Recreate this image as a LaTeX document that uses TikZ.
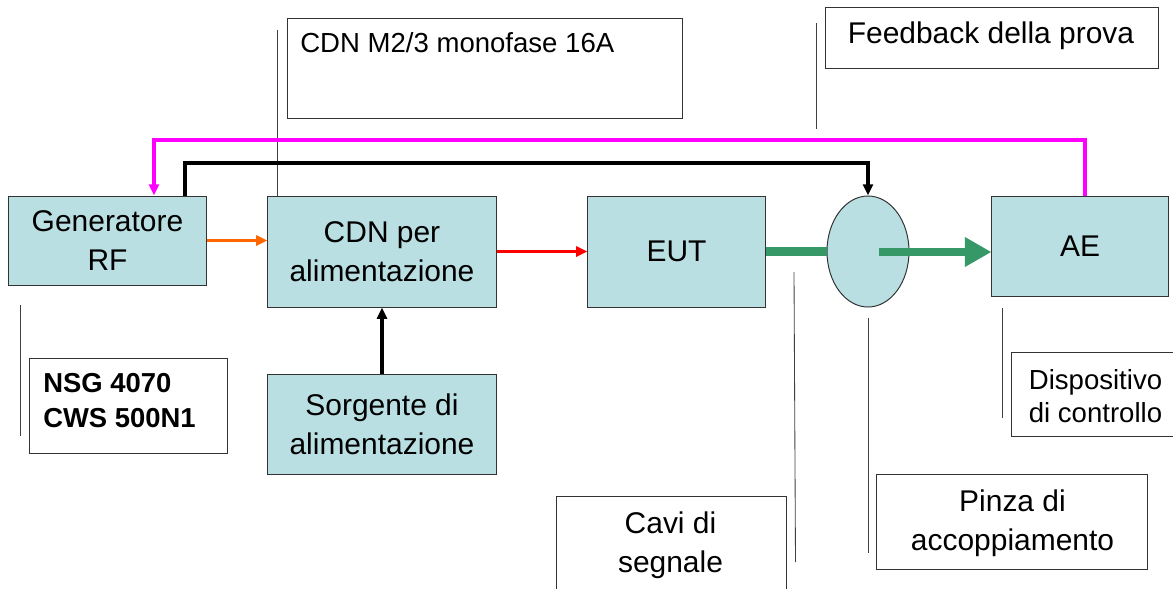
\documentclass[tikz,border=0pt]{standalone}
\usepackage{fontspec}
\setmainfont{Liberation Sans}
\usetikzlibrary{arrows.meta,shapes.geometric}
\definecolor{boxfill}{RGB}{185,223,226}
\definecolor{magline}{RGB}{255,0,255}
\definecolor{orline}{RGB}{255,102,0}
\definecolor{grline}{RGB}{54,152,102}
\tikzset{
  blk/.style={draw=black!80, line width=0.7pt, fill=boxfill, align=center, inner sep=0pt,
    font=\fontsize{21.3}{27.5}\selectfont},
  lblbox/.style={draw=black!80, line width=0.7pt, fill=white, inner sep=0pt},
  bigtxt/.style={align=center, inner sep=0pt, font=\fontsize{21.3}{28}\selectfont},
  smalltxt/.style={align=center, inner sep=0pt, font=\fontsize{19.6}{23.5}\selectfont},
  leader/.style={draw=black!75, line width=0.6pt},
  mag/.style={draw=magline, line width=2.2pt, -{Triangle[length=8pt,width=7pt]}},
  blkline/.style={draw=black, line width=2.2pt, -{Triangle[length=8pt,width=7pt]}},
  thinarrow/.style={line width=2.2pt, -{Triangle[length=8pt,width=7pt]}},
}
\begin{document}
\begin{tikzpicture}[x=0.025cm, y=-0.025cm]
\useasboundingbox (0,0) rectangle (1173,588);
% main blocks
\node[blk, minimum width=4.925cm, minimum height=2.225cm] (gen) at (107.5,240.5) {Generatore\\RF};
\node[blk, minimum width=5.7cm, minimum height=2.775cm] (cdn) at (382,251.5) {CDN per\\alimentazione};
\node[blk, minimum width=4.425cm, minimum height=2.775cm] (eut) at (676.5,251.5) {EUT};
\node[blk, ellipse, minimum width=2.05cm, minimum height=2.775cm] (ell) at (868,251.5) {};
\node[blk, minimum width=4.4cm, minimum height=2.5cm] (ae) at (1080,246) {AE};
\node[blk, minimum width=5.7cm, minimum height=2.5cm] (src) at (382,424) {Sorgente di\\alimentazione};
% label boxes
\node[lblbox, minimum width=9.85cm, minimum height=2.5cm] (cdnmbox) at (485,68) {};
\node[anchor=west, inner sep=0pt, font=\fontsize{19.6}{23.5}\selectfont] (cdnmtxt) at (300,43) {CDN M2/3 monofase 16A};
\node[lblbox, minimum width=8.3cm, minimum height=1.525cm] (fb) at (992,37.5) {};
\node[bigtxt] (fbtxt) at (991,36) {Feedback della prova};
\node[lblbox, minimum width=4.925cm, minimum height=2.375cm] (nsg) at (128.5,405.5) {};
\node[anchor=west, align=left, inner sep=0pt, font=\bfseries\fontsize{19.5}{25}\selectfont] (nsgtxt) at (43,400.5) {NSG 4070\\CWS 500N1};
\node[lblbox, minimum width=4.5cm, minimum height=2.1cm] (disp) at (1102,394) {};
\node[smalltxt] (disptxt) at (1095.5,396.5) {Dispositivo\\di controllo};
\node[lblbox, minimum width=6.75cm, minimum height=2.375cm] (pinza) at (1012,521.5) {};
\node[bigtxt] (pinzatxt) at (1012.5,523) {Pinza di\\accoppiamento};
\node[lblbox, minimum width=5.725cm, minimum height=2.375cm] (cavi) at (671.5,543.5) {};
\node[bigtxt] (cavitxt) at (670.5,545) {Cavi di\\segnale};
% leader lines
\coordinate (l1) at (277,30);
\draw[leader] (l1) -- (cdn.north -| l1);
\coordinate (l2a) at (20,305); \coordinate (l2b) at (20,436);
\draw[leader] (l2a) -- (l2b);
\coordinate (l3a) at (816,23); \coordinate (l3b) at (816,129);
\draw[leader] (l3a) -- (l3b);
\coordinate (l4a) at (1002,308); \coordinate (l4b) at (1002,418);
\draw[leader] (l4a) -- (l4b);
\coordinate (l5a) at (868,318); \coordinate (l5b) at (868,553);
\draw[leader] (l5a) -- (l5b);
\coordinate (l6a) at (794,272); \coordinate (l6b) at (795.5,562);
\draw[leader] (l6a) -- (l6b);
% magenta feedback
\coordinate (mr) at (1085,140); \coordinate (mc) at (154,140);
\draw[mag] (ae.north -| mr) -- (mr) -- (mc) -- (gen.north -| mc);
% black line
\coordinate (bl) at (185,163); \coordinate (br) at (868,163);
\draw[blkline] (gen.north -| bl) -- (bl) -- (br) -- (ell.north);
% signal arrows
\draw[thinarrow, orline] (gen.east) -- (cdn.west |- gen.east);
\draw[thinarrow, red] (cdn.east) -- (eut.west);
\draw[thinarrow, black] (src.north) -- (cdn.south);
% green
\draw[grline, line width=5.8pt] (eut.east) -- (ell.west);
\coordinate (g1) at (879,252);
\draw[grline, line width=5.8pt, -{Triangle[length=19pt,width=20pt]}] (g1) -- (g1 -| ae.west);
\end{tikzpicture}
\end{document}
